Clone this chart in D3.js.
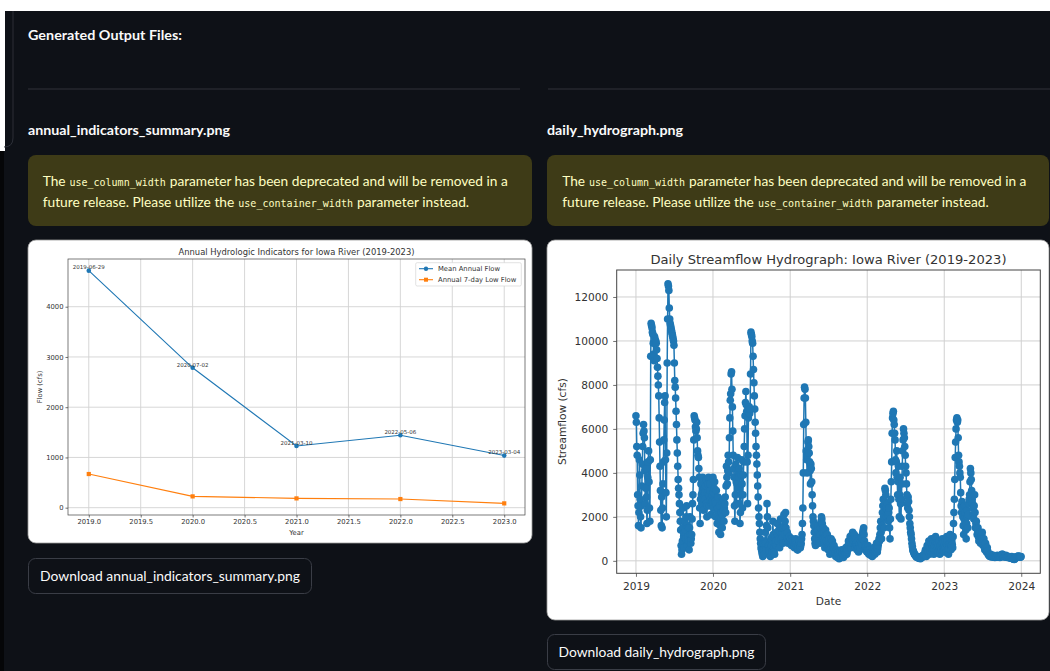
<!DOCTYPE html>
<html>
<head>
<meta charset="utf-8">
<script src="https://cdn.jsdelivr.net/npm/d3@7"></script>
<style>
  html, body { margin: 0; padding: 0; background: #0e1117; }
  svg { display: block; }
</style>
</head>
<body>
<svg id="page" width="1050" height="671"></svg>
<script>
// ---- Annual indicators ----
const annualYears = [2019, 2020, 2021, 2022, 2023];
const meanAnnualFlow = [4718, 2784, 1229, 1442, 1037];
const lowFlow7Day = [670, 225, 185, 172, 86];
const peakDates = ["2019-06-29", "2020-07-02", "2021-03-10", "2022-05-06", "2023-03-04"];
const annualXTicks = [2019.0, 2019.5, 2020.0, 2020.5, 2021.0, 2021.5, 2022.0, 2022.5, 2023.0];
const annualYTicks = [0, 1000, 2000, 3000, 4000];

// ---- Daily streamflow (cfs), one reading every 2 days from 1 Jan of each year ----
const flow2019 = [6600,6300,5200,4800,3000,2500,1600,2200,4600,3900,2800,2000,1500,2500,3400,4400,5200,5800,6200,5900,
  5600,4100,2600,3300,4200,2900,1700,2300,3800,4500,5000,3600,2400,1800,4600,9300,10800,10700,10600,10400,
  10300,9900,9400,9100,10200,10100,10000,10000,9900,9600,9200,8800,8400,8000,7500,6500,5400,4300,3200,2300,
  1600,2900,1500,2400,3500,4500,5500,6400,7200,7500,4600,3100,2000,4900,9000,11000,12600,12500,12300,11500,
  11000,10800,10700,10600,10500,10400,10300,10200,10100,10000,9800,9000,8200,7900,7400,6800,6200,5500,4900,4300,
  3700,3300,3000,2600,2200,1800,1400,700,300,500,900,1500,2400,1100,600,1300,1800,1400,1000,2000,
  2500,1600,700,1100,1500,900,500,1500,2000,1200,800,1000,1200,1900,2600,3000,3700,5500,6600,6500,
  6400,6100,5900,6000,6300,5600,5000,4800,4700,4200,3800,2400,1700,2800,3500,3000,2600,3100,3800,2900,
  2300,2800,3300,3100,2800,3400,3700,2600,2000,2500,3100,3500,3800,3000,2500,3200,3500,2800,2100,2600,
  3000,2700,2600];
const flow2020 = [3800,3100,2400,3300,3600,2700,2000,2600,3200,2300,1700,2400,2900,1900,1300,1800,2500,1600,1200,1900,
  2200,2700,1500,2100,2800,2300,1800,2400,2600,2900,
  2200,3400,4300,3800,3500,4100,4800,4500,4000,5600,6500,7300,7600,8500,8600,7800,7000,5900,4800,4200,
  3800,2500,1800,3000,4400,3600,2600,3500,4700,4000,
  3300,3800,4200,2600,1700,2200,3000,3900,4600,3500,2400,3000,3900,4500,
  5200,6000,6600,7200,7700,7100,6800,4500,2600,4800,6500,6800,7000,6700,6900,8500,
  10400,10300,10200,10000,9900,9300,8700,8100,7500,6900,6300,5800,5200,4800,4400,3900,3400,2900,2400,2000,
  1700,1300,1000,800,600,500,400,300,
  200,500,800,500,300,900,1300,800,500,1600,2600,2000,1500,700,300,500,700,400,
  200,600,1000,700,400,1100,1800,1200,600,400,300,800,1200,900,700,1300,1700,1200,900,1100,
  1400,1000,600,1300,1900,1500,1000,1200,1500,1100,800,1500,2100,1600,1200,1800,2200,1500,900,1100,
  1300,1000,800,900,1000,1100,900];
const flow2021 = [900,1000,800,700,1000,800,700,900,850,700,600,800,900,1000,750,650,600,500,500,600,
  700,800,900,700,600,700,800,1000,1200,1700,
  2400,4000,6200,7400,7900,7800,7400,6300,5000,4600,4000,4800,5400,5500,5200,4900,4500,4100,3500,4400,
  4200,3600,3000,2500,2000,1800,1600,1300,1000,800,
  700,1000,1300,1100,900,1400,1600,1200,1100,900,800,1200,1500,1800,2000,1900,
  1700,1300,1000,1500,1300,900,600,1100,1400,1200,900,700,1200,800,500,700,1000,600,300,500,
  800,1000,600,400,900,700,400,600,700,500,
  300,400,200,300,500,350,150,250,400,300,100,200,300,450,200,150,500,400,300,200,
  150,300,400,500,250,350,600,450,300,400,
  500,700,900,600,700,800,1100,900,600,800,1000,1200,1300,1000,800,900,1200,1000,700,600,
  1000,800,500,700,900,600,400,600,800,500,600,900,1100,800,700,1000,1300,1400,1500,1200,
  900,700,500,600,700,500,400];
const flow2022 = [400,550,700,500,300,450,500,350,250,300,400,300,200,250,350,450,600,400,300,400,
  500,650,800,600,400,550,700,850,1000,900,
  1200,1500,1800,1300,1000,1600,2200,2500,2800,2000,1500,2600,3300,3200,3000,2400,
  2000,2300,2600,2100,1800,2200,2400,1500,1000,1900,2800,3600,4500,5800,
  6500,6700,6800,6400,6200,5800,5500,4600,4000,4500,5000,3800,3000,3600,4300,2800,2000,3000,3800,2600,
  1900,2800,3500,4300,5000,5500,6000,5800,5600,5200,
  4800,4300,4000,3500,3000,2600,2400,2900,2700,2300,2000,1700,1500,1300,1200,1000,
  800,650,500,450,400,350,300,280,250,220,200,180,150,170,200,150,120,130,150,120,
  100,140,200,170,150,200,250,230,200,250,
  300,400,500,350,200,450,700,550,400,650,900,600,300,450,600,800,1000,750,500,650,
  800,550,300,500,700,900,1100,800,500,650,
  800,600,400,700,900,550,300,500,700,600,500,800,1000,800,600,500,400];
const flow2023 = [600,750,900,600,400,800,1100,900,700,500,300,550,800,1000,1200,800,500,700,900,750,
  600,1100,1700,2200,
  2800,3700,4700,5400,6000,6400,6500,6300,6400,5600,4800,4500,4300,4000,3800,3100,2500,2200,
  2700,2400,2000,1600,1200,1900,2500,2200,1800,1400,1000,1700,2300,2000,1500,2100,2600,2800,
  3000,3600,4200,4000,3700,3200,2800,2600,2400,2100,1900,2500,3000,2200,1500,1700,
  1800,1500,1200,1400,1500,1100,900,1200,1300,1000,800,950,1100,1200,
  1300,1000,700,850,1000,750,500,650,800,600,400,500,600,450,300,280,
  250,230,200,260,300,240,180,190,200,220,250,210,180,160,150,170,200,190,170,200,
  250,230,200,180,180,170,150,180,200,240,280,300,300,260,220,200,180,190,200,230,
  250,210,170,160,150,180,200,190,180,150,120,140,150,170,200,150,100,90,80,70,
  60,90,120,140,150,180,200,190,180,200,220,210,200,180,160,180,200];
const hydroYears = [2019, 2020, 2021, 2022, 2023];
const hydroXTicks = [2019, 2020, 2021, 2022, 2023, 2024];
const hydroYTicks = [0, 2000, 4000, 6000, 8000, 10000, 12000];

const SANS = "Lato, 'Noto Sans', sans-serif";
const MONO = "'DejaVu Sans Mono', 'Liberation Mono', monospace";
const MPL = "'DejaVu Sans', sans-serif";
const BLUE = "#1f77b4", ORANGE = "#ff7f0e";
const TEXT = "#fafafa", WARN_TEXT = "#ffffc2";

const svg = d3.select("#page");

// ---------- page chrome ----------
svg.append("rect").attr("width", 1050).attr("height", 671).attr("fill", "#0e1117");
svg.append("rect").attr("width", 1050).attr("height", 11).attr("fill", "#ffffff");
svg.append("rect").attr("y", 11).attr("width", 5).attr("height", 140).attr("fill", "#ffffff");
svg.append("rect").attr("y", 151).attr("width", 4).attr("height", 520).attr("fill", "#050608");
svg.append("path").attr("d", "M13,11 V138 Q13,147 4,147")
  .attr("fill", "none").attr("stroke", "#2c2f37").attr("stroke-width", 1);

function fitText(parent, str, x, y, width, o) {
  const t = parent.append("text").attr("x", x).attr("y", y).text(str)
    .attr("font-family", o.family).attr("font-size", o.size)
    .attr("font-weight", o.weight || 400).attr("fill", o.fill)
    .attr("text-anchor", o.anchor || "start");
  if (width) t.attr("textLength", width).attr("lengthAdjust", "spacingAndGlyphs");
  return t;
}

// one line of prose / inline code segments, separated by word gaps; font size is
// scaled so the line's natural width equals the requested width
function richLine(parent, parts, x, y, width) {
  const GAP = 4;
  const base = parts.map(([, code]) => code ? 10.8 : 14.8);
  const nodes = parts.map(([str, code], i) => parent.append("text")
    .attr("y", y).text(str)
    .attr("font-family", code ? MONO : SANS)
    .attr("font-size", base[i])
    .attr("fill", WARN_TEXT));
  const w = nodes.map(n => n.node().getComputedTextLength());
  const k = (width - GAP * (parts.length - 1)) / d3.sum(w);
  let cx = x;
  nodes.forEach((n, i) => {
    n.attr("font-size", base[i] * k).attr("x", cx);
    cx += n.node().getComputedTextLength() + GAP;
  });
}

fitText(svg, "Generated Output Files:", 28, 40, 154, {family: SANS, size: 14, weight: 700, fill: TEXT});
svg.append("line").attr("x1", 28).attr("x2", 520).attr("y1", 89).attr("y2", 89).attr("stroke", "#30333b");
svg.append("line").attr("x1", 548).attr("x2", 1050).attr("y1", 89).attr("y2", 89).attr("stroke", "#30333b");

const columns = [
  {x: 28, w: 504, name: "annual_indicators_summary.png", nameW: 202, tx: 42.7, l1: 465.3, l2: 426.8,
   btn: {y: 558, w: 283, tw: 260}},
  {x: 547, w: 502, name: "daily_hydrograph.png", nameW: 136, tx: 562.3, l1: 464.7, l2: 426.7,
   btn: {y: 634, w: 218, tw: 196}}
];
columns.forEach(c => {
  fitText(svg, c.name, c.x, 135, c.nameW, {family: SANS, size: 14, weight: 700, fill: TEXT});
  svg.append("rect").attr("x", c.x).attr("y", 155).attr("width", c.w).attr("height", 71)
    .attr("rx", 8).attr("fill", "#3e3b17");
  richLine(svg, [["The", false], ["use_column_width", true],
    ["parameter has been deprecated and will be removed in a", false]], c.tx, 186, c.l1);
  richLine(svg, [["future release. Please utilize the", false], ["use_container_width", true],
    ["parameter instead.", false]], c.tx, 207, c.l2);
  svg.append("rect").attr("x", c.x + 0.5).attr("y", c.btn.y + 0.5).attr("width", c.btn.w)
    .attr("height", 35).attr("rx", 7).attr("fill", "#0e1117").attr("stroke", "#3a3d46");
  fitText(svg, "Download " + c.name, c.x + 0.5 + c.btn.w / 2, c.btn.y + 23, c.btn.tw,
    {family: SANS, size: 14, fill: TEXT, anchor: "middle"});
});

// ---------- left figure: annual indicators ----------
svg.append("rect").attr("x", 28).attr("y", 240).attr("width", 504).attr("height", 303)
  .attr("rx", 8).attr("fill", "#ffffff").attr("stroke", "#9a9a9a").attr("stroke-width", 0.8);
const A = {l: 68, r: 525, t: 259, b: 515};
const aAll = meanAnnualFlow.concat(lowFlow7Day);
const aPadX = (d3.max(annualYears) - d3.min(annualYears)) * 0.05;
const aPadY = (d3.max(aAll) - d3.min(aAll)) * 0.05;
const ax = d3.scaleLinear().domain([d3.min(annualYears) - aPadX, d3.max(annualYears) + aPadX]).range([A.l, A.r]);
const ay = d3.scaleLinear().domain([d3.min(aAll) - aPadY, d3.max(aAll) + aPadY]).range([A.b, A.t]);

const gA = svg.append("g");
gA.append("g").selectAll("line").data(annualXTicks).join("line")
  .attr("x1", d => ax(d)).attr("x2", d => ax(d)).attr("y1", A.t).attr("y2", A.b)
  .attr("stroke", "#d2d2d2").attr("stroke-width", 0.9);
gA.append("g").selectAll("line").data(annualYTicks).join("line")
  .attr("y1", d => ay(d)).attr("y2", d => ay(d)).attr("x1", A.l).attr("x2", A.r)
  .attr("stroke", "#d2d2d2").attr("stroke-width", 0.9);

function styleAxis(g, size, color) {
  g.select(".domain").remove();
  g.selectAll(".tick line").attr("stroke", color).attr("stroke-width", 0.7);
  g.selectAll(".tick text").attr("font-family", MPL).attr("font-size", size).attr("fill", color);
}
gA.append("g").attr("transform", `translate(0,${A.b})`)
  .call(d3.axisBottom(ax).tickValues(annualXTicks).tickFormat(d3.format(".1f")).tickSize(2.5).tickPadding(1.8))
  .call(g => styleAxis(g, 6.8, "#333"));
gA.append("g").attr("transform", `translate(${A.l},0)`)
  .call(d3.axisLeft(ay).tickValues(annualYTicks).tickFormat(d3.format("d")).tickSize(2.5).tickPadding(2))
  .call(g => styleAxis(g, 6.8, "#333"));
gA.append("rect").attr("x", A.l).attr("y", A.t).attr("width", A.r - A.l).attr("height", A.b - A.t)
  .attr("fill", "none").attr("stroke", "#444").attr("stroke-width", 0.7);

const meanPts = annualYears.map((y, i) => [y, meanAnnualFlow[i]]);
const lowPts = annualYears.map((y, i) => [y, lowFlow7Day[i]]);
const aLine = d3.line().x(d => ax(d[0])).y(d => ay(d[1]));
gA.append("path").attr("d", aLine(meanPts)).attr("fill", "none").attr("stroke", BLUE).attr("stroke-width", 1.1);
gA.selectAll(".mpt").data(meanPts).join("circle").attr("class", "mpt")
  .attr("cx", d => ax(d[0])).attr("cy", d => ay(d[1])).attr("r", 2.3).attr("fill", BLUE);
gA.append("path").attr("d", aLine(lowPts)).attr("fill", "none").attr("stroke", ORANGE).attr("stroke-width", 1.1);
gA.selectAll(".lpt").data(lowPts).join("rect").attr("class", "lpt")
  .attr("x", d => ax(d[0]) - 2.1).attr("y", d => ay(d[1]) - 2.1).attr("width", 4.2).attr("height", 4.2)
  .attr("fill", ORANGE);
gA.selectAll(".ann").data(meanPts).join("text").attr("class", "ann")
  .attr("x", d => ax(d[0])).attr("y", d => ay(d[1]) - 1.3).attr("text-anchor", "middle")
  .attr("font-family", MPL).attr("font-size", 5.5).attr("fill", "#333")
  .text((d, i) => peakDates[i]);

fitText(gA, "Annual Hydrologic Indicators for Iowa River (2019-2023)", (A.l + A.r) / 2, 255, 236,
  {family: MPL, size: 8.2, fill: "#333", anchor: "middle"});
fitText(gA, "Year", (A.l + A.r) / 2, 534.5, null, {family: MPL, size: 6.8, fill: "#333", anchor: "middle"});
gA.append("text").attr("transform", `translate(41.5,${(A.t + A.b) / 2}) rotate(-90)`)
  .attr("text-anchor", "middle").attr("font-family", MPL).attr("font-size", 6.8).attr("fill", "#333")
  .text("Flow (cfs)");

// legend
const lg = gA.append("g");
lg.append("rect").attr("x", 415.7).attr("y", 262.7).attr("width", 105.6).attr("height", 23.3)
  .attr("rx", 1.5).attr("fill", "#fff").attr("stroke", "#d5d5d5").attr("stroke-width", 0.7);
[["Mean Annual Flow", BLUE, "circle"], ["Annual 7-day Low Flow", ORANGE, "square"]].forEach(([label, col, mk], i) => {
  const yy = 268.7 + i * 11;
  lg.append("line").attr("x1", 419).attr("x2", 433).attr("y1", yy).attr("y2", yy).attr("stroke", col).attr("stroke-width", 1.1);
  if (mk === "circle") lg.append("circle").attr("cx", 426).attr("cy", yy).attr("r", 2.2).attr("fill", col);
  else lg.append("rect").attr("x", 424).attr("y", yy - 2).attr("width", 4).attr("height", 4).attr("fill", col);
  lg.append("text").attr("x", 438).attr("y", yy + 2.4).attr("font-family", MPL).attr("font-size", 6.8)
    .attr("fill", "#333").text(label);
});

// ---------- right figure: daily hydrograph ----------
svg.append("rect").attr("x", 547).attr("y", 240).attr("width", 502).attr("height", 380)
  .attr("rx", 8).attr("fill", "#ffffff").attr("stroke", "#9a9a9a").attr("stroke-width", 0.8);
const H = {l: 616.7, r: 1040.3, t: 270, b: 573.3};
const yearly = [flow2019, flow2020, flow2021, flow2022, flow2023];
const daily = [];
hydroYears.forEach((yr, k) => {
  yearly[k].forEach((v, i) => daily.push({date: d3.utcDay.offset(new Date(Date.UTC(yr, 0, 1)), 2 * i), flow: v}));
});
const [d0, d1] = d3.extent(daily, d => d.date);
const span = d1 - d0;
const hx = d3.scaleUtc().domain([new Date(+d0 - span * 0.05), new Date(+d1 + span * 0.05)]).range([H.l, H.r]);
const [f0, f1] = d3.extent(daily, d => d.flow);
const hy = d3.scaleLinear().domain([f0 - (f1 - f0) * 0.05, f1 + (f1 - f0) * 0.05]).range([H.b, H.t]);
const xTickDates = hydroXTicks.map(y => new Date(Date.UTC(y, 0, 1)));

const gH = svg.append("g");
gH.append("g").selectAll("line").data(xTickDates).join("line")
  .attr("x1", d => hx(d)).attr("x2", d => hx(d)).attr("y1", H.t).attr("y2", H.b)
  .attr("stroke", "#d0d0d0").attr("stroke-width", 1);
gH.append("g").selectAll("line").data(hydroYTicks).join("line")
  .attr("y1", d => hy(d)).attr("y2", d => hy(d)).attr("x1", H.l).attr("x2", H.r)
  .attr("stroke", "#d0d0d0").attr("stroke-width", 1);
gH.append("g").attr("transform", `translate(0,${H.b})`)
  .call(d3.axisBottom(hx).tickValues(xTickDates).tickFormat(d3.utcFormat("%Y")).tickSize(3.5).tickPadding(6))
  .call(g => styleAxis(g, 10.6, "#333"));
gH.append("g").attr("transform", `translate(${H.l},0)`)
  .call(d3.axisLeft(hy).tickValues(hydroYTicks).tickFormat(d3.format("d")).tickSize(3.5).tickPadding(5))
  .call(g => styleAxis(g, 10.6, "#333"));
gH.append("rect").attr("x", H.l).attr("y", H.t).attr("width", H.r - H.l).attr("height", H.b - H.t)
  .attr("fill", "none").attr("stroke", "#444").attr("stroke-width", 1);

gH.append("path").attr("d", d3.line().x(d => hx(d.date)).y(d => hy(d.flow))(daily))
  .attr("fill", "none").attr("stroke", BLUE).attr("stroke-width", 1.5);
gH.append("g").selectAll("circle").data(daily).join("circle")
  .attr("cx", d => hx(d.date)).attr("cy", d => hy(d.flow)).attr("r", 3.8).attr("fill", BLUE);

fitText(gH, "Daily Streamflow Hydrograph: Iowa River (2019-2023)", (H.l + H.r) / 2, 263.5, 356,
  {family: MPL, size: 12.6, fill: "#333", anchor: "middle"});
fitText(gH, "Date", (H.l + H.r) / 2, 605, null, {family: MPL, size: 10.6, fill: "#333", anchor: "middle"});
gH.append("text").attr("transform", `translate(566,${(H.t + H.b) / 2}) rotate(-90)`)
  .attr("text-anchor", "middle").attr("font-family", MPL).attr("font-size", 10.6).attr("fill", "#333")
  .text("Streamflow (cfs)");
</script>
</body>
</html>
